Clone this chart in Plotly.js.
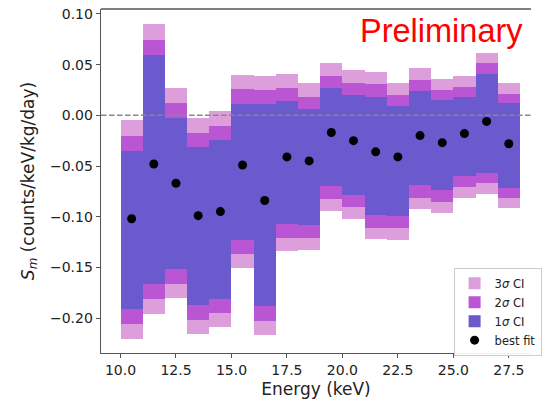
<!DOCTYPE html>
<html>
<head>
<meta charset="utf-8">
<script src="https://cdn.plot.ly/plotly-3.0.1.min.js"></script>
<style>html,body{margin:0;padding:0;background:#fff;}#chart{width:542px;height:400px;}</style>
</head>
<body>
<div id="chart"></div>
<script>
// Energy bin centres (keV): bins of width 1 from 10 to 28
const energy = [10.5, 11.5, 12.5, 13.5, 14.5, 15.5, 16.5, 17.5, 18.5, 19.5, 20.5, 21.5, 22.5, 23.5, 24.5, 25.5, 26.5, 27.5];
const binWidth = [1, 1, 1, 1, 1, 1, 1, 1, 1, 1, 1, 1, 1, 1, 1, 1, 1, 1];

// best-fit S_m values
const bestFit = [-0.102, -0.048, -0.067, -0.099, -0.095, -0.049, -0.084, -0.041, -0.045, -0.017, -0.025, -0.036, -0.041, -0.020, -0.027, -0.018, -0.006, -0.028];

// 1 sigma interval
const hi1 = [-0.0355, 0.0599, -0.0023, -0.0316, -0.0247, 0.0115, 0.0111, 0.0138, 0.0062, 0.0269, 0.0200, 0.0180, 0.0089, 0.0240, 0.0148, 0.0180, 0.0411, 0.0121];
const lo1 = [-0.1906, -0.1667, -0.1512, -0.1874, -0.1808, -0.1226, -0.1884, -0.1075, -0.1078, -0.0697, -0.0782, -0.0986, -0.0993, -0.0690, -0.0740, -0.0602, -0.0569, -0.0717];

// 2 sigma interval
const hi2 = [-0.0204, 0.0747, 0.0125, -0.0175, -0.0106, 0.0256, 0.0253, 0.0269, 0.0184, 0.0392, 0.0322, 0.0306, 0.0197, 0.0345, 0.0253, 0.0283, 0.0516, 0.0214];
const lo2 = [-0.2054, -0.1815, -0.1660, -0.2015, -0.1950, -0.1371, -0.2029, -0.1206, -0.1206, -0.0828, -0.0904, -0.1108, -0.1111, -0.0812, -0.0855, -0.0707, -0.0668, -0.0816];

// 3 sigma interval
const hi3 = [-0.0049, 0.0897, 0.0273, -0.0027, 0.0039, 0.0394, 0.0392, 0.0404, 0.0319, 0.0520, 0.0444, 0.0427, 0.0319, 0.0464, 0.0362, 0.0392, 0.0618, 0.0316];
const lo3 = [-0.2202, -0.1956, -0.1802, -0.2153, -0.2088, -0.1506, -0.2163, -0.1338, -0.1331, -0.0947, -0.1026, -0.1216, -0.1226, -0.0920, -0.0964, -0.0816, -0.0772, -0.0914];

const xTicks = [10.0, 12.5, 15.0, 17.5, 20.0, 22.5, 25.0, 27.5];
const yTicks = [-0.20, -0.15, -0.10, -0.05, 0.00, 0.05, 0.10];

function band(lo, hi, name, color) {
  return {
    type: 'bar', x: energy, width: binWidth, base: lo,
    y: hi.map((h, i) => h - lo[i]),
    name: name, marker: {color: color, line: {width: 0}},
    hoverinfo: 'skip'
  };
}

const traces = [
  band(lo3, hi3, '3<i>σ</i> CI', '#dd9fdb'),
  band(lo2, hi2, '2<i>σ</i> CI', '#ba55d3'),
  band(lo1, hi1, '1<i>σ</i> CI', '#6a5acd'),
  {type: 'scatter', mode: 'markers', x: energy, y: bestFit, name: 'best fit',
   marker: {color: '#000', size: 9}, hoverinfo: 'skip'}
];

const axisCol = '#555';
const layout = {
  width: 542, height: 400,
  margin: {l: 101, r: 0, t: 9, b: 47},
  paper_bgcolor: '#fff', plot_bgcolor: '#fff',
  barmode: 'overlay', bargap: 0,
  font: {family: 'DejaVu Sans', color: '#222'},
  showlegend: true,
  legend: {x: 0.82, y: 0.248, xanchor: 'left', yanchor: 'top',
           bgcolor: 'rgba(255,255,255,0.9)', bordercolor: '#ccc', borderwidth: 1,
           font: {family: 'DejaVu Sans', size: 11.5, color: '#222'}},
  xaxis: {range: [9.12, 28.5], tickvals: xTicks, ticktext: xTicks.map(v => v.toFixed(1)),
          showgrid: false, zeroline: false, showline: true, linecolor: axisCol, linewidth: 1.3,
          ticks: 'outside', ticklen: 4, tickcolor: axisCol,
          tickfont: {size: 14, color: '#222'},
          title: {text: 'Energy (keV)', font: {size: 17, color: '#222'}, standoff: 6}},
  yaxis: {range: [-0.2345, 0.1049], tickvals: yTicks, ticktext: yTicks.map(v => (v < 0 ? '\u2212' : '') + Math.abs(v).toFixed(2)),
          showgrid: false, zeroline: false, showline: true, linecolor: axisCol, linewidth: 1.3,
          ticks: 'outside', ticklen: 4, tickcolor: axisCol,
          tickfont: {size: 14, color: '#222'},
          title: {text: '<i>S<sub>m</sub></i> (counts/keV/kg/day)', font: {size: 17, color: '#222'}, standoff: 11}},
  shapes: [
    {type: 'line', xref: 'paper', yref: 'y', x0: 0, x1: 1, y0: 0, y1: 0,
     line: {color: '#888', width: 1.5, dash: '5.5px,2.5px'}},
    {type: 'line', xref: 'paper', yref: 'paper', x0: 0, x1: 1, y0: 1, y1: 1,
     line: {color: axisCol, width: 1.3}}
  ],
  annotations: [
    {text: 'Preliminary', xref: 'paper', yref: 'paper', x: 0.598, y: 0.936,
     xanchor: 'left', yanchor: 'middle', showarrow: false,
     font: {family: 'Liberation Sans', size: 32.5, color: '#ff0000'}}
  ]
};

Plotly.newPlot('chart', traces, layout, {displayModeBar: false, staticPlot: true});
</script>
</body>
</html>
